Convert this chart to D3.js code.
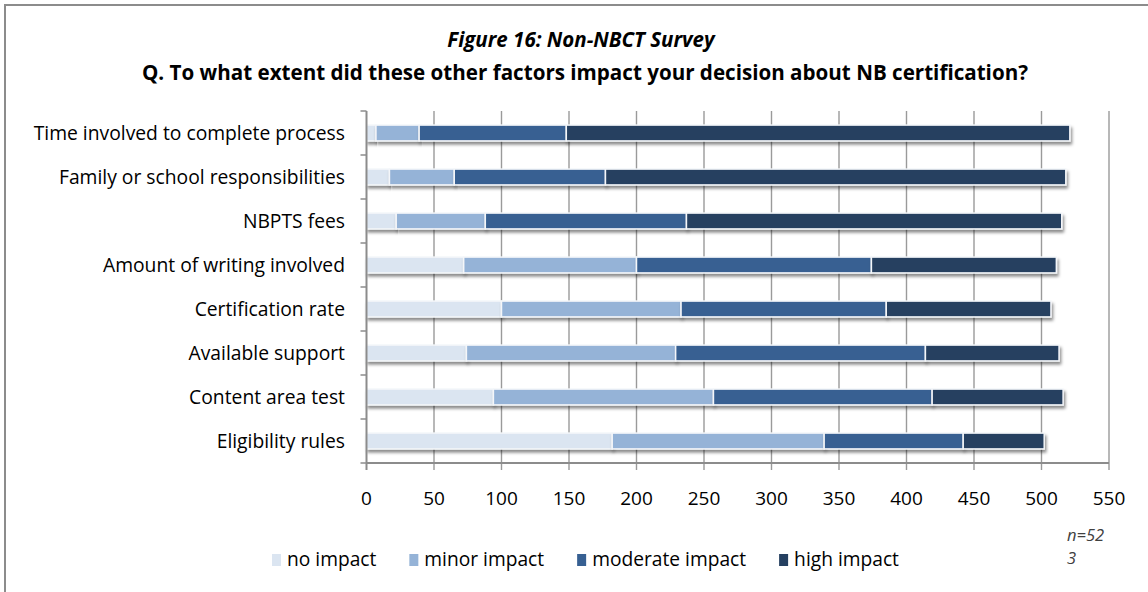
<!DOCTYPE html>
<html>
<head>
<meta charset="utf-8">
<script src="https://cdn.jsdelivr.net/npm/d3@7"></script>
<style>
  html, body { margin: 0; padding: 0; background: #fff; }
  svg { display: block; font-family: "Open Sans", "DejaVu Sans", sans-serif; }
</style>
</head>
<body>
<svg id="chart" width="1148" height="592"></svg>
<script>
// Survey factors (top to bottom) and response counts per impact level
const categories = [
  "Time involved to complete process",
  "Family or school responsibilities",
  "NBPTS fees",
  "Amount of writing involved",
  "Certification rate",
  "Available support",
  "Content area test",
  "Eligibility rules"
];
const seriesNames = ["no impact", "minor impact", "moderate impact", "high impact"];
const noImpact       = [7, 17, 22, 72, 100, 74, 94, 182];
const minorImpact    = [32, 48, 66, 128, 133, 155, 163, 157];
const moderateImpact = [109, 112, 149, 174, 152, 185, 162, 103];
const highImpact     = [373, 341, 278, 137, 122, 99, 97, 60];
const xTicks = [0, 50, 100, 150, 200, 250, 300, 350, 400, 450, 500, 550];
const colors = ["#dbe5f1", "#95b3d7", "#376092", "#254061"];

const rows = categories.map((c, i) => ({
  category: c,
  "no impact": noImpact[i],
  "minor impact": minorImpact[i],
  "moderate impact": moderateImpact[i],
  "high impact": highImpact[i]
}));

const svg = d3.select("#chart");
const plot = { left: 366.5, right: 1109, top: 111, bottom: 463 };

// Outer frame
svg.append("rect")
  .attr("x", 5).attr("y", 5).attr("width", 1160).attr("height", 600)
  .attr("fill", "#fff").attr("stroke", "#8c8c8c").attr("stroke-width", 2);

// Titles
svg.append("text")
  .attr("x", 581).attr("y", 47).attr("text-anchor", "middle")
  .attr("font-size", 20.5).attr("font-weight", "bold").attr("font-style", "italic")
  .attr("fill", "#000")
  .text("Figure 16: Non-NBCT Survey");
svg.append("text")
  .attr("x", 585).attr("y", 80).attr("text-anchor", "middle")
  .attr("font-size", 20.6).attr("font-weight", "bold").attr("fill", "#000")
  .text("Q. To what extent did these other factors impact your decision about NB certification?");

const x = d3.scaleLinear().domain([0, 550]).range([plot.left, plot.right]);
const y = d3.scaleBand().domain(categories).range([plot.top, plot.bottom])
  .paddingInner(0.64).paddingOuter(0.32);

// Drop shadow beneath bars
const defs = svg.append("defs");
const f = defs.append("filter").attr("id", "shadow")
  .attr("x", "-5%").attr("y", "-40%").attr("width", "110%").attr("height", "200%");
f.append("feDropShadow").attr("dx", 1.5).attr("dy", 3).attr("stdDeviation", 1.6)
  .attr("flood-color", "#000").attr("flood-opacity", 0.45);

// Vertical gridlines with tick marks below the axis
const grid = svg.append("g");
grid.selectAll("line").data(xTicks.filter(d => d > 0)).join("line")
  .attr("x1", d => x(d)).attr("x2", d => x(d))
  .attr("y1", plot.top).attr("y2", plot.bottom + 7)
  .attr("stroke", "#9a9a9a").attr("stroke-width", 1.4);

// Stacked bars
const stack = d3.stack().keys(seriesNames)(rows);
const barsG = svg.append("g");
stack.forEach((layer, li) => {
  barsG.append("g").selectAll("rect").data(layer).join("rect")
    .attr("x", d => x(d[0]))
    .attr("y", d => y(d.data.category))
    .attr("width", d => x(d[1]) - x(d[0]))
    .attr("height", y.bandwidth())
    .attr("fill", colors[li])
    .attr("stroke", "#f4f6f9").attr("stroke-width", 1.5)
    .attr("filter", "url(#shadow)");
});

// Axes lines
const axisColor = "#8c8c8c";
svg.append("line")
  .attr("x1", plot.left).attr("x2", plot.left)
  .attr("y1", plot.top).attr("y2", plot.bottom + 7)
  .attr("stroke", axisColor).attr("stroke-width", 2);
svg.append("line")
  .attr("x1", plot.left).attr("x2", plot.right)
  .attr("y1", plot.bottom).attr("y2", plot.bottom)
  .attr("stroke", axisColor).attr("stroke-width", 2);
// Category boundary ticks on the y axis
const step = y.step();
const bounds = d3.range(categories.length + 1).map(i => plot.top + i * step);
svg.append("g").selectAll("line").data(bounds).join("line")
  .attr("x1", plot.left - 6).attr("x2", plot.left)
  .attr("y1", d => d).attr("y2", d => d)
  .attr("stroke", axisColor).attr("stroke-width", 1.5);

// X tick labels
svg.append("g").selectAll("text").data(xTicks).join("text")
  .attr("x", d => x(d)).attr("y", 505).attr("text-anchor", "middle")
  .attr("font-size", 19).attr("fill", "#000")
  .text(d => d);

// Category labels
svg.append("g").selectAll("text").data(categories).join("text")
  .attr("x", 345).attr("y", d => y(d) + y.bandwidth() / 2)
  .attr("dy", "0.35em").attr("text-anchor", "end")
  .attr("font-size", 19.3).attr("fill", "#000")
  .text(d => d);

// Legend
const legend = svg.append("g");
let lx = 272;
seriesNames.forEach((name, i) => {
  legend.append("rect").attr("x", lx).attr("y", 554).attr("width", 9).attr("height", 12)
    .attr("fill", colors[i]);
  const t = legend.append("text").attr("x", lx + 15).attr("y", 566)
    .attr("font-size", 19.2).attr("fill", "#000").text(name);
  lx += 15 + t.node().getComputedTextLength() + 33;
});

// Sample size note
const note = svg.append("text").attr("font-size", 16.5).attr("font-style", "italic").attr("fill", "#404040");
note.append("tspan").attr("x", 1067).attr("y", 541).text("n=52");
note.append("tspan").attr("x", 1067).attr("y", 564).text("3");
</script>
</body>
</html>
